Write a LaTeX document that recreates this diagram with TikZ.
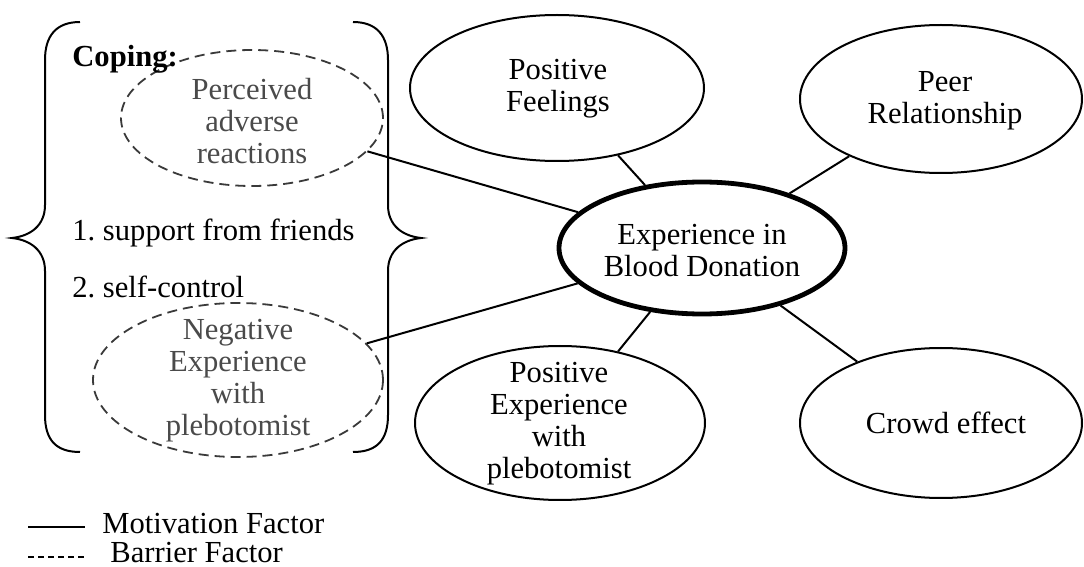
\documentclass[tikz,border=0pt]{standalone}
\usepackage{fontspec}
\setmainfont{Liberation Serif}
\usetikzlibrary{shapes.geometric}
\definecolor{dgray}{HTML}{3A3A3A}
\definecolor{tgray}{HTML}{4A4A4A}
\newcommand\myfs{\fontsize{15.3}{16}\selectfont}
\frenchspacing
\begin{document}
\begin{tikzpicture}[x=0.5pt,y=-0.5pt,
  ell/.style={ellipse, draw, line width=1pt, inner sep=0pt, fill=white},
  ctrell/.style={ellipse, draw, line width=2.4pt, inner sep=0pt, fill=white},
  barrier/.style={ellipse, draw=dgray, dash pattern=on 5pt off 3pt, line width=0.9pt, inner sep=0pt},
  lbl/.style={align=center, font=\myfs, inner sep=0pt},
  btxt/.style={align=center, font=\myfs, inner sep=0pt, text=tgray},
  ltxt/.style={font=\myfs, inner sep=0pt, anchor=base west},
  conn/.style={line width=1pt},
  brace/.style={line width=1pt},
]
\useasboundingbox (0,0) rectangle (1084,567);

% braces
\draw[brace] (80,22) .. controls (56,22) and (45,36) .. (45,60) -- (45,205)
  .. controls (45,226) and (30,236) .. (12,238)
  .. controls (30,240) and (45,250) .. (45,271) -- (45,415)
  .. controls (45,440) and (56,452) .. (80,452);
\draw[brace] (353,22) .. controls (377,22) and (388,36) .. (388,60) -- (388,205)
  .. controls (388,226) and (403,236) .. (421,238)
  .. controls (403,240) and (388,250) .. (388,271) -- (388,415)
  .. controls (388,440) and (377,452) .. (353,452);

% ellipses
\node[barrier, minimum width=131pt, minimum height=68pt] (perc) at (252,118) {};
\node[barrier, minimum width=145pt, minimum height=77pt] (neg) at (238,380) {};
\node[ell, minimum width=147pt, minimum height=73pt] (pf) at (557,88) {};
\node[ell, minimum width=141pt, minimum height=74pt] (peer) at (941,99) {};
\node[ctrell, minimum width=143pt, minimum height=66pt] (ctr) at (702,248) {};
\node[ell, minimum width=145pt, minimum height=77pt] (pe) at (560,423) {};
\node[ell, minimum width=141pt, minimum height=75pt] (crowd) at (941,423) {};

% connectors
\draw[conn] (perc) -- (ctr);
\draw[conn] (neg) -- (ctr);
\draw[conn] (pf) -- (ctr);
\draw[conn] (peer) -- (ctr);
\draw[conn] (pe) -- (ctr);
\draw[conn] (crowd) -- (ctr);

% texts
\node[ltxt, font=\myfs\bfseries] (coping) at (72,67) {Coping:};
\node[ltxt] (c1) at (72,241) {1. support from friends};
\node[ltxt] (c2) at (72,298) {2. self-control};
\node[btxt] (percT) at (252,121) {Perceived\\adverse\\reactions};
\node[btxt] (negT) at (238,381) {Negative\\Experience\\with\\plebotomist};
\node[lbl] (pfT) at (558,89) {Positive\\Feelings};
\node[lbl] (peerT) at (945,101) {Peer\\Relationship};
\node[lbl] (ctrT) at (702,251) {Experience in\\Blood Donation};
\node[lbl] (peT) at (559,424) {Positive\\Experience\\with\\plebotomist};
\node[lbl] (crowdT) at (946,423) {Crowd effect};

% legend
\coordinate (m1) at (28,527);
\coordinate (m2) at (85,527);
\draw[conn] (m1) -- (m2);
\node[ltxt] (motT) at (102,533) {Motivation Factor};
\coordinate (b1) at (28,557);
\coordinate (b2) at (85,557);
\draw[line width=0.9pt, dash pattern=on 3pt off 2pt] (b1) -- (b2);
\node[ltxt] (barT) at (110,562) {Barrier Factor};
\end{tikzpicture}
\end{document}
